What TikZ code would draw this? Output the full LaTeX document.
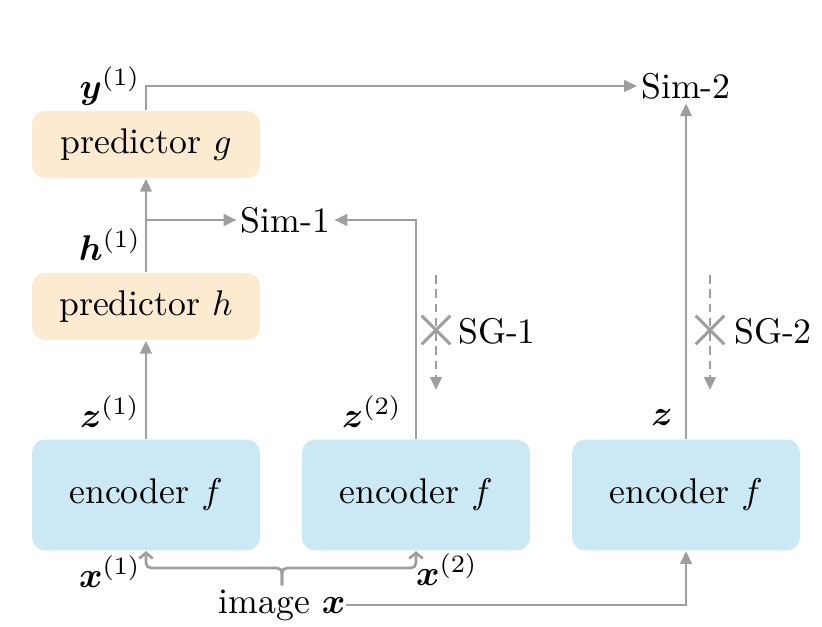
\documentclass[tikz,border=0pt]{standalone}
\usepackage{amsmath}
\usepackage{amssymb}
\usepackage{bm}
\usepackage{tikz}
\usetikzlibrary{arrows.meta,shapes.misc}

\definecolor{lineGray}{HTML}{9E9E9E}
\definecolor{predOrange}{HTML}{FDEBD1}
\definecolor{encBlue}{HTML}{CBE9F5}

\begin{document}
\begin{tikzpicture}[x=0.28pt,y=-0.28pt]
\tikzstyle{encoder}=[fill=encBlue,rounded corners=3.6pt,minimum width=63.8pt,minimum height=31pt,inner sep=0pt]
\tikzstyle{predictor}=[fill=predOrange,rounded corners=3.6pt,minimum width=63.8pt,minimum height=18.8pt,inner sep=0pt]
\tikzstyle{sim}=[inner sep=1pt]
\tikzstyle{arr}=[draw=lineGray,line width=0.75pt,-{Triangle[length=3.6pt,width=3.2pt]}]
\tikzstyle{inarr}=[draw=lineGray,line width=0.75pt,-{Straight Barb[length=1.6pt,width=3.8pt]}]
\tikzstyle{sgarr}=[arr,dash pattern=on 2.4pt off 1.6pt]
\tikzstyle{stop}=[draw=lineGray,line width=0.8pt,cross out,minimum size=7.2pt,inner sep=0pt]

\useasboundingbox (0,0) rectangle (822,627);

\node [encoder] (E1) at (146,495) {encoder $f$};
\node [encoder] (E2) at (416,495) {encoder $f$};
\node [encoder] (E3) at (686,495) {encoder $f$};
\node [predictor] (H) at (146,306.5) {predictor $h$};
\node [predictor] (G) at (146,144.5) {predictor $g$};
\node [sim] (S1) at (285.5,220) {Sim-1};
\node [sim] (S2) at (686,86) {Sim-2};
\node [inner xsep=0pt,inner ysep=1pt] (img) at (282,605) {image $\bm{x}$};

\node (x1) at (110,572) {$\bm{x}^{(1)}$};
\node (x2) at (447,570) {$\bm{x}^{(2)}$};
\node (z1) at (110,412) {$\bm{z}^{(1)}$};
\node (z2) at (372,412) {$\bm{z}^{(2)}$};
\node (z) at (662,418) {$\bm{z}$};
\node (h1) at (110,245) {$\bm{h}^{(1)}$};
\node (y1) at (110,86) {$\bm{y}^{(1)}$};

\coordinate (br) at (146,220);
\coordinate (brace) at (282,568);

% image to the encoders
\draw [inarr,rounded corners=1.4pt] (img.north) |- (E1.south |- brace) -- (E1.south);
\draw [inarr,rounded corners=1.4pt] (img.north) |- (E2.south |- brace) -- (E2.south);
\draw [arr] (img.east) -| (E3.south);

% online branch
\draw [arr] (E1.north) -- (H.south);
\draw [arr] (H.north) -- (G.south);
\draw [arr] (br) -- (br -| S1.west);
\draw [arr] (G.north) |- (S2.west);

% target branches
\draw [arr] (E2.north) |- (S1.east);
\draw [arr] (E3.north) -- (S2.south);

% stop gradients
\coordinate (sg1a) at (436,275);
\coordinate (sg1b) at (436,390);
\coordinate (sg2a) at (710,275);
\coordinate (sg2b) at (710,390);
\draw [sgarr] (sg1a) -- (sg1b);
\draw [sgarr] (sg2a) -- (sg2b);
\node [stop] (X1) at (436,330) {};
\node [stop] (X2) at (710,330) {};
\node (SG1) at (497,331) {SG-1};
\node (SG2) at (773,331) {SG-2};
\end{tikzpicture}
\end{document}
